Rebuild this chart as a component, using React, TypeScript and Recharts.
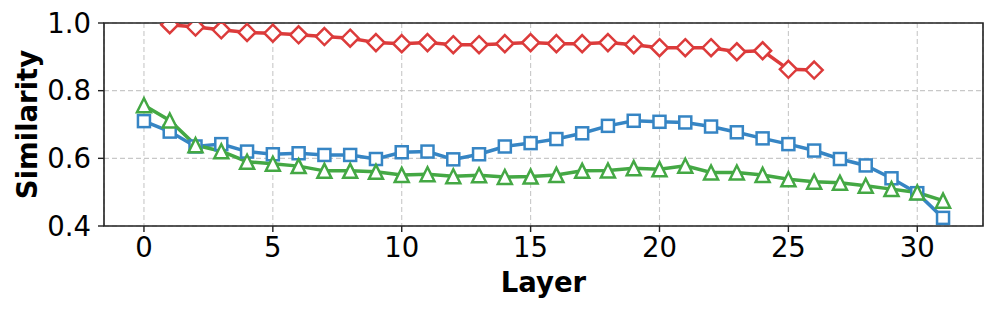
import { CartesianGrid, Line, LineChart, ReferenceArea, XAxis, YAxis } from "recharts";

const LAYERS = Array.from({ length: 32 }, (_, i) => i);

const BLUE_VALUES = [
  0.71, 0.679, 0.635, 0.642, 0.62, 0.612, 0.615, 0.61, 0.61, 0.598, 0.618, 0.62, 0.597, 0.612, 0.635,
  0.645, 0.657, 0.674, 0.696, 0.711, 0.708, 0.706, 0.694, 0.677, 0.659, 0.642, 0.623, 0.598, 0.579,
  0.541, 0.497, 0.424,
];

const GREEN_VALUES = [
  0.757, 0.712, 0.639, 0.621, 0.59, 0.584, 0.577, 0.563, 0.563, 0.56, 0.551, 0.553, 0.547, 0.55, 0.545,
  0.546, 0.551, 0.563, 0.564, 0.571, 0.568, 0.578, 0.558, 0.558, 0.551, 0.538, 0.531, 0.528, 0.519,
  0.509, 0.499, 0.475,
];

// red starts at layer 1 and stops at layer 26
const RED_START = 1;
const RED_VALUES = [
  0.995, 0.988, 0.98, 0.972, 0.97, 0.965, 0.96, 0.955, 0.942, 0.939, 0.942, 0.936, 0.936, 0.939, 0.942,
  0.939, 0.939, 0.942, 0.936, 0.927, 0.927, 0.927, 0.915, 0.918, 0.863, 0.861,
];

const X_TICKS = [0, 5, 10, 15, 20, 25, 30];
const Y_TICKS = [0.4, 0.6, 0.8, 1.0];

const BLUE = "#3685c4";
const GREEN = "#44a844";
const RED = "#dc3b3b";
const FONT = "'DejaVu Sans', sans-serif";

const rows = LAYERS.map((layer, i) => {
  const r = i - RED_START;
  return {
    layer,
    blue: BLUE_VALUES[i],
    green: GREEN_VALUES[i],
    red: r >= 0 && r < RED_VALUES.length ? RED_VALUES[r] : null,
  };
});

type DotProps = { cx?: number; cy?: number; index?: number; value?: unknown };

function squareDot(color: string) {
  return (props: DotProps) => {
    const { cx, cy, index, value } = props;
    if (cx == null || cy == null || value == null) return <g key={`s-${index}`} />;
    const s = 6;
    return (
      <rect
        key={`s-${index}`}
        x={cx - s}
        y={cy - s}
        width={s * 2}
        height={s * 2}
        fill="#fff"
        stroke={color}
        strokeWidth={2.5}
      />
    );
  };
}

function triangleDot(color: string) {
  return (props: DotProps) => {
    const { cx, cy, index, value } = props;
    if (cx == null || cy == null || value == null) return <g key={`t-${index}`} />;
    const s = 7;
    return (
      <polygon
        key={`t-${index}`}
        points={`${cx},${cy - s} ${cx - s},${cy + s} ${cx + s},${cy + s}`}
        fill="#fff"
        stroke={color}
        strokeWidth={2.5}
      />
    );
  };
}

function diamondDot(color: string) {
  return (props: DotProps) => {
    const { cx, cy, index, value } = props;
    if (cx == null || cy == null || value == null) return <g key={`d-${index}`} />;
    const s = 8.5;
    return (
      <polygon
        key={`d-${index}`}
        points={`${cx},${cy - s} ${cx + s},${cy} ${cx},${cy + s} ${cx - s},${cy}`}
        fill="#fff"
        stroke={color}
        strokeWidth={2.5}
      />
    );
  };
}

const tickStyle = { fill: "#000", fontSize: 27.5, fontFamily: FONT };

export default function App() {
  return (
    <div style={{ width: 997, height: 313, background: "#fff" }}>
      <style>{`body{margin:0}`}</style>
      <LineChart width={997} height={313} data={rows} margin={{ top: 23, right: 14, left: 0, bottom: 0 }}>
        <CartesianGrid stroke="#c8c8c8" strokeDasharray="5 3" strokeWidth={1.1} />
        <XAxis
          dataKey="layer"
          type="number"
          domain={[-1.55, 32.55]}
          ticks={X_TICKS}
          allowDataOverflow
          height={87}
          axisLine={false}
          tickLine={{ stroke: "#222", strokeWidth: 1.4 }}
          tickSize={6}
          tickMargin={5}
          tick={tickStyle}
          label={{
            value: "Layer",
            position: "insideBottom",
            offset: 21,
            style: { fill: "#000", fontSize: 27.5, fontWeight: "bold", fontFamily: FONT },
          }}
        />
        <YAxis
          type="number"
          domain={[0.4, 1.0]}
          ticks={Y_TICKS}
          allowDataOverflow
          width={104}
          axisLine={false}
          tickLine={{ stroke: "#222", strokeWidth: 1.4 }}
          tickSize={6}
          tickMargin={7}
          tick={tickStyle}
          tickFormatter={(v) => Number(v).toFixed(1)}
          label={{
            value: "Similarity",
            angle: -90,
            position: "insideLeft",
            offset: 27,
            style: { fill: "#000", fontSize: 27.5, fontWeight: "bold", fontFamily: FONT, textAnchor: "middle" },
          }}
        />
        <Line
          dataKey="blue"
          stroke={BLUE}
          strokeWidth={3.5}
          dot={squareDot(BLUE)}
          activeDot={false}
          isAnimationActive={false}
        />
        <Line
          dataKey="green"
          stroke={GREEN}
          strokeWidth={3.5}
          dot={triangleDot(GREEN)}
          activeDot={false}
          isAnimationActive={false}
        />
        <Line
          dataKey="red"
          stroke={RED}
          strokeWidth={3.5}
          dot={diamondDot(RED)}
          activeDot={false}
          isAnimationActive={false}
        />
        <ReferenceArea
          x1={-1.55}
          x2={32.55}
          y1={0.4}
          y2={1.0}
          fill="none"
          stroke="#222"
          strokeWidth={1.6}
          fillOpacity={0}
        />
      </LineChart>
    </div>
  );
}
